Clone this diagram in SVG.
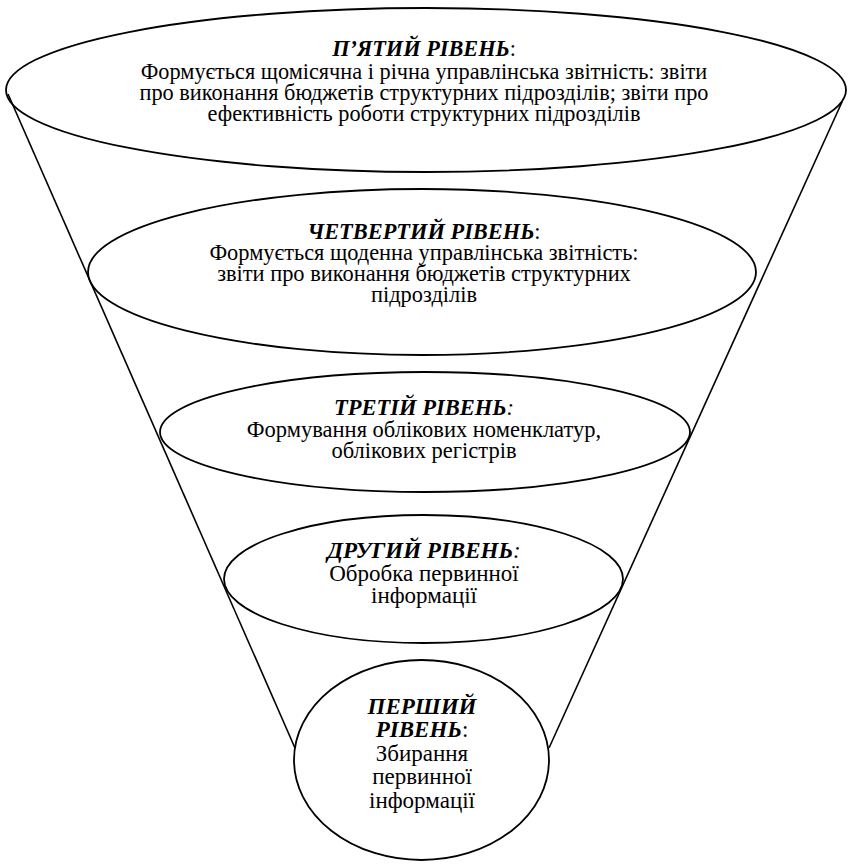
<svg xmlns="http://www.w3.org/2000/svg" width="849" height="864" viewBox="0 0 849 864">
<style>
.shape{fill:none;stroke:#000;stroke-width:1.8}
.line{fill:none;stroke:#000;stroke-width:1.6}
text{font-family:"Liberation Serif","Times New Roman",serif;fill:#000;text-anchor:middle}
.t5{font-size:22.3px}
.t4{font-size:22.4px}
.t3{font-size:22.5px}
.t2{font-size:23px}
.h{font-weight:bold;font-style:italic}
.it{font-style:italic}
</style>
<rect width="849" height="864" fill="#fff"/>
<g id="connectors">
<line class="line" x1="8" y1="94" x2="295" y2="748"/>
<line class="line" x1="842" y1="102" x2="549" y2="748"/>
</g>
<g id="level5">
<ellipse class="shape" cx="426" cy="90" rx="420" ry="82"/>
<text class="t5" x="424" y="56"><tspan class="h">П’ЯТИЙ РІВЕНЬ</tspan>:</text>
<text class="t5" x="424" y="79">Формується щомісячна і річна управлінська звітність: звіти</text>
<text class="t5" x="424" y="100">про виконання бюджетів структурних підрозділів; звіти про</text>
<text class="t5" x="424" y="121">ефективність роботи структурних підрозділів</text>
</g>
<g id="level4">
<ellipse class="shape" cx="422" cy="272" rx="334" ry="83"/>
<text class="t4" x="424" y="239"><tspan class="h">ЧЕТВЕРТИЙ РІВЕНЬ</tspan>:</text>
<text class="t4" x="424" y="260">Формується щоденна управлінська звітність:</text>
<text class="t4" x="424" y="281">звіти про виконання бюджетів структурних</text>
<text class="t4" x="424" y="302">підрозділів</text>
</g>
<g id="level3">
<ellipse class="shape" cx="425" cy="432" rx="265" ry="60"/>
<text class="t3" x="424" y="415"><tspan class="h">ТРЕТІЙ РІВЕНЬ</tspan><tspan class="it">:</tspan></text>
<text class="t3" x="424" y="437">Формування облікових номенклатур,</text>
<text class="t3" x="424" y="458">облікових регістрів</text>
</g>
<g id="level2">
<ellipse class="shape" cx="423.5" cy="579" rx="199.5" ry="64"/>
<text class="t2" x="424" y="558"><tspan class="h">ДРУГИЙ РІВЕНЬ</tspan><tspan class="it">:</tspan></text>
<text class="t2" x="424" y="581">Обробка первинної</text>
<text class="t2" x="424" y="603">інформації</text>
</g>
<g id="level1">
<ellipse class="shape" cx="421.5" cy="760" rx="127.5" ry="100"/>
<text class="t2" x="422" y="714"><tspan class="h">ПЕРШИЙ</tspan></text>
<text class="t2" x="422" y="737"><tspan class="h">РІВЕНЬ</tspan>:</text>
<text class="t2" x="422" y="761">Збирання</text>
<text class="t2" x="422" y="784">первинної</text>
<text class="t2" x="422" y="808">інформації</text>
</g>
</svg>
